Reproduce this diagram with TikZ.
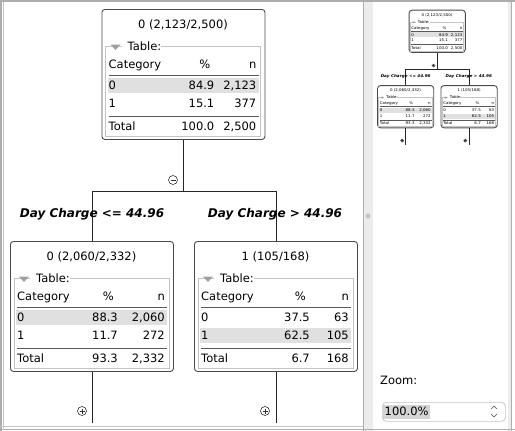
\documentclass[tikz,border=0pt]{standalone}
\usepackage{fontspec}
\setmainfont{DejaVu Sans}
\usetikzlibrary{positioning}

\definecolor{boxgray}{HTML}{4A4A4A}
\definecolor{framegray}{HTML}{C4C4C4}
\definecolor{rowgray}{HTML}{E0E0E0}
\definecolor{chrome}{HTML}{ADADAD}
\definecolor{panelgray}{HTML}{ECECEC}
\definecolor{selgray}{HTML}{D4D4D4}

\tikzset{
  tbox/.style={draw=boxgray,line width=.9pt,rounded corners=3pt,fill=white,
    minimum width=163pt,minimum height=130pt,inner sep=0pt},
  ttext/.style={font=\fontsize{11.5}{13}\selectfont,inner sep=0pt,
    text height=8.5pt,text depth=2.5pt},
  testlabel/.style={ttext,font=\fontsize{12}{14}\selectfont\bfseries\itshape},
  edge/.style={draw=black!85,line width=.8pt},
  tgroup/.style={draw=framegray,line width=.7pt},
  rule/.style={draw=black!65,line width=.8pt},
  toggle/.style={circle,draw=black!80,line width=.6pt,minimum size=9pt,inner sep=0pt},
  minus/.style={toggle,path picture={\draw[line width=.6pt]
    ([xshift=2pt]path picture bounding box.west) -- ([xshift=-2pt]path picture bounding box.east);}},
  plus/.style={toggle,path picture={\draw[line width=.6pt]
    ([xshift=2pt]path picture bounding box.west) -- ([xshift=-2pt]path picture bounding box.east)
    ([yshift=-2pt]path picture bounding box.north) -- ([yshift=2pt]path picture bounding box.south);}},
  spinbox/.style={draw=framegray,line width=.7pt,rounded corners=4pt,fill=white,
    minimum width=123pt,minimum height=19pt,inner sep=0pt},
}

% one box of the tree: name, left, top, title, % column, highlighted row, rows
\newcommand\treebox[7]{%
  \begin{scope}[shift={(#2,#3)}]
    \node[tbox,anchor=north west] (#1) at (0,0) {};
    \node[ttext] (#1-title) at (81.5,16) {#4};
    \draw[tgroup] (4,37) rectangle (159,127);
    \fill[rowgray] (6,69+18*#6) rectangle (157,84+18*#6);
    \node[ttext,fill=white,anchor=west,inner xsep=0pt] (#1-group) at (20,38) {\hspace{6pt}Table:\hspace{2pt}};
    \fill[gray!75] (9,35.5) -- (19,35.5) -- (14,41) -- cycle;
    \node[ttext,anchor=west] (#1-head) at (7,56) {Category};
    \node[ttext,anchor=east] (#1-pct) at (#5-4,56) {\%};
    \node[ttext,anchor=east] (#1-n) at (155,56) {n};
    \draw[rule] (7,66) -- (157,66);
    \draw[rule] (7,107) -- (157,107);
    \foreach \c/\p/\n [count=\i from 0] in {#7} {
      \pgfmathsetmacro\ry{77+18*\i+5*(\i>1)}
      \node[ttext,anchor=west] (#1-c\i) at (7,\ry) {\c};
      \node[ttext,anchor=east] (#1-p\i) at (#5,\ry) {\p};
      \node[ttext,anchor=east] (#1-n\i) at (155,\ry) {\n};
    }
  \end{scope}}

% the whole tree, names prefixed with #1
\newcommand\drawtree[1]{%
  \treebox{#1root}{101.5}{9}{0 (2,123/2,500)}{113}{0}
    {0/84.9/{2,123}, 1/15.1/377, Total/100.0/{2,500}}
  \treebox{#1left}{10}{241}{0 (2,060/2,332)}{108}{0}
    {0/88.3/{2,060}, 1/11.7/272, Total/93.3/{2,332}}
  \treebox{#1right}{194}{241}{1 (105/168)}{116}{1}
    {0/37.5/63, 1/62.5/105, Total/6.7/168}
  \draw[edge] (#1root.south) -- ++(0,51) coordinate (#1split);
  \draw[edge] (#1left.north) |- (#1split) -| (#1right.north);
  \node[minus] (#1rootfold) at (173,180) {};
  \node[testlabel] (#1lefttest) at (92,214) {Day Charge <= 44.96};
  \node[testlabel] (#1righttest) at (275,214) {Day Charge > 44.96};
  \draw[edge] (#1left.south) -- ++(0,51) coordinate (#1leftend);
  \draw[edge] (#1right.south) -- ++(0,51) coordinate (#1rightend);
  \node[plus] (#1leftfold) at (82,411) {};
  \node[plus] (#1rightfold) at (265,411) {};}

\begin{document}
\begin{tikzpicture}[x=1pt,y=-1pt]
  \useasboundingbox (0,0) rectangle (515,431);
  % window frame
  \fill[white] (0,0) rectangle (515,431);
  \fill[panelgray] (363,2) rectangle (373,431);
  \fill[panelgray] (508,2) rectangle (512,431);
  \draw[chrome,line width=2pt] (0,1) -- (515,1);
  \draw[chrome,line width=1.2pt] (1,0) -- (1,431);
  \draw[framegray,line width=.8pt] (3,2) -- (3,428);
  \draw[chrome,line width=.8pt] (363,2) -- (363,431);
  \draw[chrome,line width=.8pt] (511,2) -- (511,431);
  \draw[framegray,line width=.8pt] (0,426.5) -- (363,426.5);
  \draw[chrome,line width=.8pt] (0,429) -- (515,429);
  \fill[framegray] (368,216) circle (2.6);
  % main tree
  \drawtree{}
  % overview
  \begin{scope}[shift={(373.9,7.1)},xscale=.345,yscale=.325,transform shape]
    \drawtree{m}
  \end{scope}
  % zoom control
  \node[ttext,anchor=west] (zoomlabel) at (380,381) {Zoom:};
  \node[spinbox,anchor=north west] (zoombox) at (382,402) {};
  \node[ttext,fill=selgray,anchor=west,inner xsep=1.5pt,text height=10.5pt,text depth=3.5pt]
    (zoomvalue) at (383,411.5) {100.0\%};
  \draw[black!70,line width=.7pt] (491,409) -- (494,406) -- (497,409)
    (491,414) -- (494,417) -- (497,414);
\end{tikzpicture}
\end{document}
